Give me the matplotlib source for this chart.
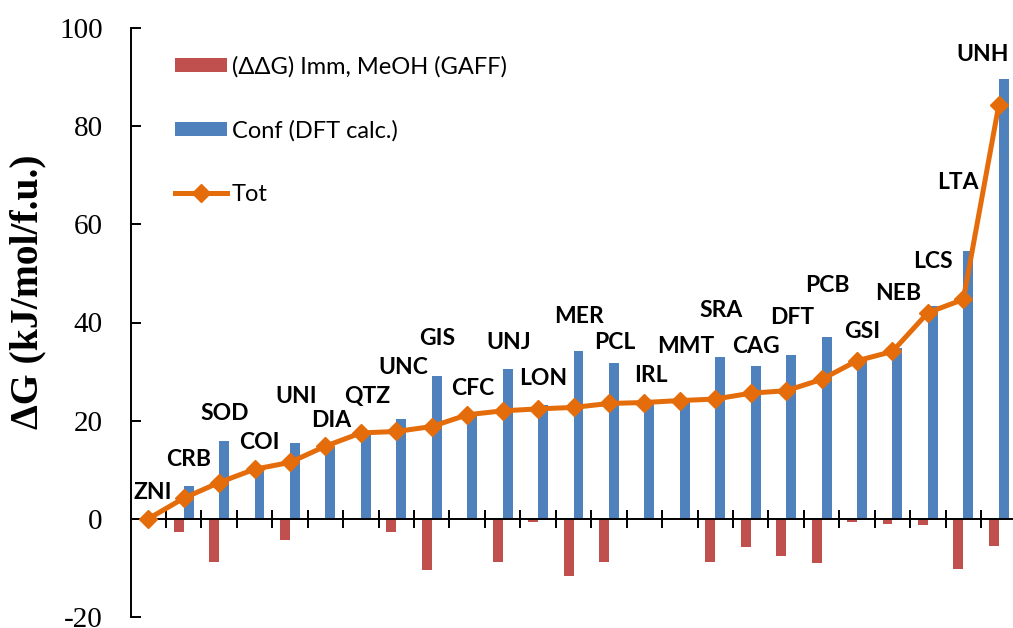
import matplotlib
matplotlib.use("Agg")
import matplotlib.pyplot as plt
import numpy as np

# Frameworks, ordered by total free energy
categories = ["ZNI", "CRB", "SOD", "COI", "UNI", "DIA", "QTZ", "UNC", "GIS", "CFC",
              "UNJ", "LON", "MER", "PCL", "IRL", "MMT", "SRA", "CAG", "DFT", "PCB",
              "GSI", "NEB", "LCS", "LTA", "UNH"]

# (ΔΔG) immersion in MeOH, GAFF force field  [kJ/mol/f.u.]
ddg_imm = [0, -2.7, -8.8, 0, -4.3, 0, 0, -2.7, -10.5, 0,
           -8.7, -0.7, -11.6, -8.7, 0, 0, -8.8, -5.8, -7.5, -9.1,
           -0.7, -1.1, -1.3, -10.3, -5.6]

# Conformational energy from DFT  [kJ/mol/f.u.]
conf_dft = [0, 6.6, 15.9, 10.1, 15.5, 14.8, 17.5, 20.4, 29.0, 21.2,
            30.5, 23.1, 34.1, 31.8, 23.7, 24.1, 33.0, 31.1, 33.3, 37.1,
            32.9, 34.8, 43.3, 54.5, 89.6]

# Total  [kJ/mol/f.u.]
total = [0, 4.2, 7.4, 10.1, 11.5, 14.8, 17.5, 17.8, 18.8, 21.2,
         22.0, 22.4, 22.7, 23.5, 23.7, 24.1, 24.4, 25.6, 26.1, 28.4,
         32.2, 34.1, 42.0, 44.7, 84.3]

yticks = [-20, 0, 20, 40, 60, 80, 100]

# Placement of the framework name labels (x shift in category units, y in data units)
label_dx = [0.14, 0.15, 0.16, 0.15, 0.17, 0.16, 0.17, 0.19, 0.15, 0.15,
            0.16, 0.14, 0.16, 0.17, 0.17, 0.17, 0.15, 0.14, 0.17, 0.16,
            0.14, 0.16, 0.14, -0.15, -0.45]
label_y = [5.3, 12.0, 21.4, 15.5, 24.9, 20.0, 24.9, 30.8, 36.7, 26.5,
           35.9, 28.6, 41.2, 35.9, 29.2, 35.1, 42.4, 35.1, 41.0, 47.5,
           38.2, 46.0, 52.4, 68.6, 94.7]

RED = "#C0504D"
BLUE = "#4F81BD"
ORANGE = "#E46C0A"

SANS = ["Lato", "DejaVu Sans"]
SERIF = ["Liberation Serif", "DejaVu Serif"]

fig = plt.figure(figsize=(10.13, 6.28), dpi=100)
ax = fig.add_axes([130.5 / 1013, 11 / 628, 886 / 1013, 589 / 628])

x = np.arange(len(categories))
bw = 0.28
h_red = ax.bar(x - bw / 2, ddg_imm, width=bw, color=RED,
               label="(ΔΔG) Imm, MeOH (GAFF)", zorder=2)
h_blue = ax.bar(x + bw / 2, conf_dft, width=bw, color=BLUE,
                label="Conf (DFT calc.)", zorder=2)
h_tot, = ax.plot(x, total, color=ORANGE, lw=3.6, marker="D", markersize=9.5,
                 label="Tot", zorder=4, solid_joinstyle="round")

for i, name in enumerate(categories):
    ax.text(x[i] + label_dx[i], label_y[i], name, ha="center", va="center",
            fontsize=16.5, fontweight="bold", family=SANS, zorder=5)

ax.set_xlim(-0.5, len(categories) - 0.5)
ax.set_ylim(-20, 100)

# Spines: left axis from -20 to 100, horizontal axis through zero
for s in ("top", "right"):
    ax.spines[s].set_visible(False)
ax.spines["left"].set_bounds(-20, 100)
ax.spines["left"].set_linewidth(1.4)
ax.spines["bottom"].set_position(("data", 0))
ax.spines["bottom"].set_linewidth(1.4)
ax.spines["bottom"].set_zorder(3)

ax.set_xticks(np.arange(0.5, len(categories) - 0.5, 1.0))
ax.tick_params(axis="x", direction="inout", length=13, width=1.4, labelbottom=False)
ax.set_yticks(yticks)
ax.set_yticklabels([str(v) for v in yticks])
ax.tick_params(axis="y", direction="in", length=7.5, width=1.4, pad=20)
for lab in ax.get_yticklabels():
    lab.set_family(SERIF)
    lab.set_fontsize(21)

fig.text(28 / 1013, 1 - 292 / 628, "ΔG (kJ/mol/f.u.)", rotation=90,
         ha="center", va="center", fontsize=28.5, fontweight="bold", family=SERIF)

ax.legend(handles=[h_red, h_blue, h_tot], loc="upper left",
          bbox_to_anchor=(0.0502, 0.953), frameon=False,
          prop={"family": SANS, "size": 17}, handlelength=2.2,
          handleheight=0.55, handletextpad=0.2, labelspacing=1.8,
          numpoints=1, borderaxespad=0, borderpad=0)

fig.savefig("out.png", dpi=100)
